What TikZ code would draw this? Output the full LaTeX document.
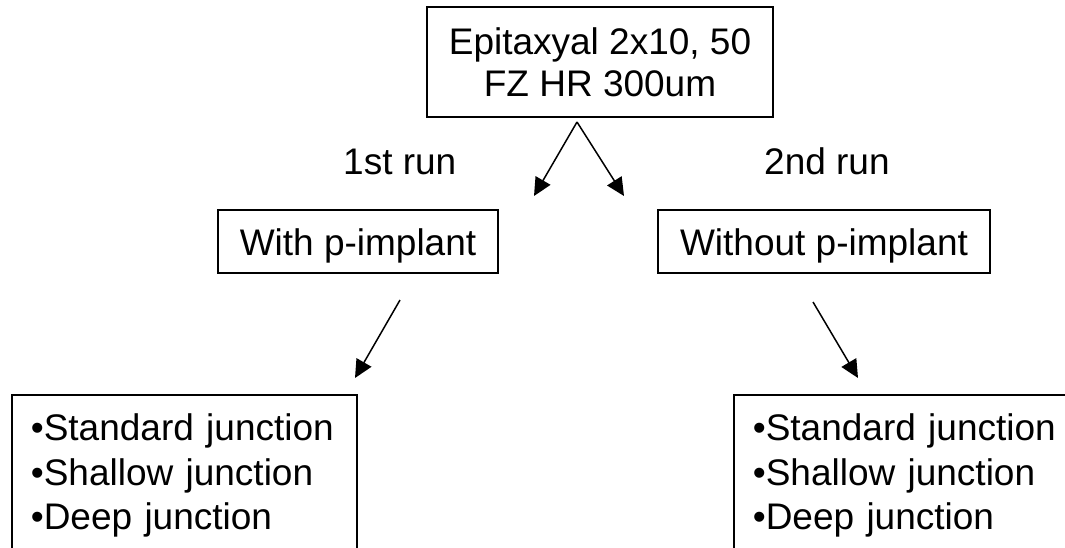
\documentclass[tikz,border=0pt]{standalone}
\usepackage{fontspec}
\setmainfont{Liberation Sans}
\usetikzlibrary{arrows.meta}
\begin{document}
\begin{tikzpicture}[x=1pt,y=-1pt,
  every node/.style={font=\fontsize{37}{42}\selectfont},
  box/.style={draw=black,line width=1.6pt,inner sep=0pt,align=center},
  listbox/.style={draw=black,line width=1.6pt,inner xsep=19pt,inner ysep=0pt,
    anchor=north west,align=left,text height=46pt,text depth=200pt,
    font=\fontsize{37}{44.5}\selectfont},
  lbl/.style={inner sep=0pt,anchor=base west},
  arr/.style={line width=1.5pt,-{Triangle[length=18pt,width=17pt]}}]
\useasboundingbox (0,0) rectangle (1065,547);
\clip (0,0) rectangle (1065,547);
\node[box,minimum width=346pt,minimum height=110pt] (top) at (600,62) {Epitaxyal 2x10, 50\\FZ HR 300um};
\node[lbl] (run1) at (343,174) {1st run};
\node[lbl] (run2) at (764,174) {2nd run};
\node[box,minimum width=280pt,minimum height=63pt,text height=30pt,text depth=3pt] (with) at (358,241.5) {With p-implant};
\node[box,minimum width=332pt,minimum height=63pt,text height=30pt,text depth=3pt] (without) at (824,241.5) {Without p-implant};
\node[listbox,text width=307pt] (listL) at (11,394) {•Standard junction\\•Shallow junction\\•Deep junction};
\node[listbox,text width=400pt] (listR) at (733,394) {•Standard junction\\•Shallow junction\\•Deep junction};
\coordinate (apex) at (577,122);
\coordinate (tipA) at (534,196);
\coordinate (tipB) at (624,196);
\coordinate (sL) at (400,300);
\coordinate (eL) at (355,378);
\coordinate (sR) at (813,302);
\coordinate (eR) at (858,378);
\draw[arr] (apex) -- (tipA);
\draw[arr] (apex) -- (tipB);
\draw[arr] (sL) -- (eL);
\draw[arr] (sR) -- (eR);
\end{tikzpicture}
\end{document}
